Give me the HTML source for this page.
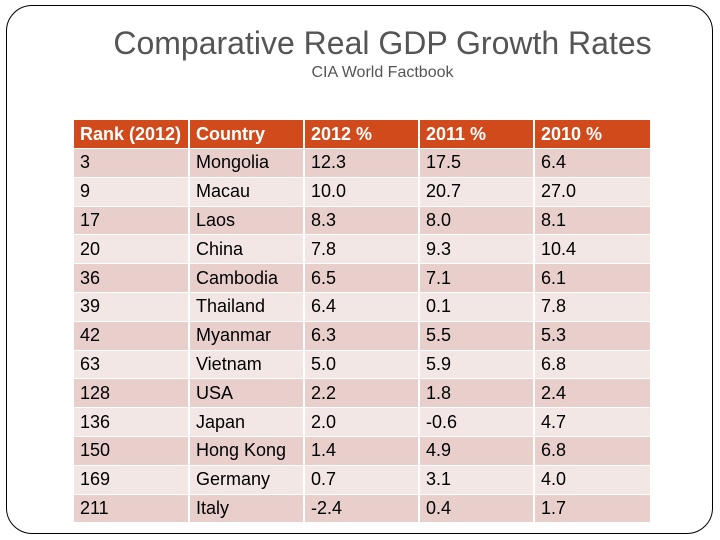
<!DOCTYPE html>
<html><head><meta charset="utf-8"><style>
body{margin:0;width:720px;height:540px;background:#fff;font-family:"Liberation Sans",sans-serif;position:relative;overflow:hidden}
.frame{position:absolute;left:6px;top:5px;width:707px;height:529px;border:1.5px solid #000;border-radius:26px;box-sizing:border-box}
h1{position:absolute;left:0;width:765px;top:25px;margin:0;text-align:center;font-weight:normal;font-size:32px;color:#555}
.sub{position:absolute;left:0;width:765px;top:64px;text-align:center;font-size:16px;color:#555}
table{position:absolute;left:72px;top:119px;border-collapse:separate;border-spacing:2px 1.3px}
td,th{height:27.8px;padding:0 0 0 6px;font-size:18px;text-align:left;box-sizing:border-box;color:#000;font-weight:normal}
th{background:#d04a1c;color:#fff;font-weight:bold;height:28px}
tr.o td{background:#e8cfcb}
tr.e td{background:#f3e7e5}
</style></head><body>
<div class="frame"></div>
<h1>Comparative Real GDP Growth Rates</h1>
<div class="sub">CIA World Factbook</div>
<table>
<tr><th style="width:114px">Rank (2012)</th><th style="width:113px">Country</th><th style="width:113px">2012 %</th><th style="width:113px">2011 %</th><th style="width:115px">2010 %</th></tr>
</table>
<script>
const ranks=["3","9","17","20","36","39","42","63","128","136","150","169","211"];
const countries=["Mongolia","Macau","Laos","China","Cambodia","Thailand","Myanmar","Vietnam","USA","Japan","Hong Kong","Germany","Italy"];
const g2012=["12.3","10.0","8.3","7.8","6.5","6.4","6.3","5.0","2.2","2.0","1.4","0.7","-2.4"];
const g2011=["17.5","20.7","8.0","9.3","7.1","0.1","5.5","5.9","1.8","-0.6","4.9","3.1","0.4"];
const g2010=["6.4","27.0","8.1","10.4","6.1","7.8","5.3","6.8","2.4","4.7","6.8","4.0","1.7"];
const t=document.querySelector('table');
ranks.forEach((r,i)=>{
const tr=document.createElement('tr');
tr.className=i%2?'e':'o';


[r,countries[i],g2012[i],g2011[i],g2010[i]].forEach(v=>{
const td=document.createElement('td');td.textContent=v;


tr.appendChild(td);});
t.appendChild(tr);});
</script>
</body></html>
